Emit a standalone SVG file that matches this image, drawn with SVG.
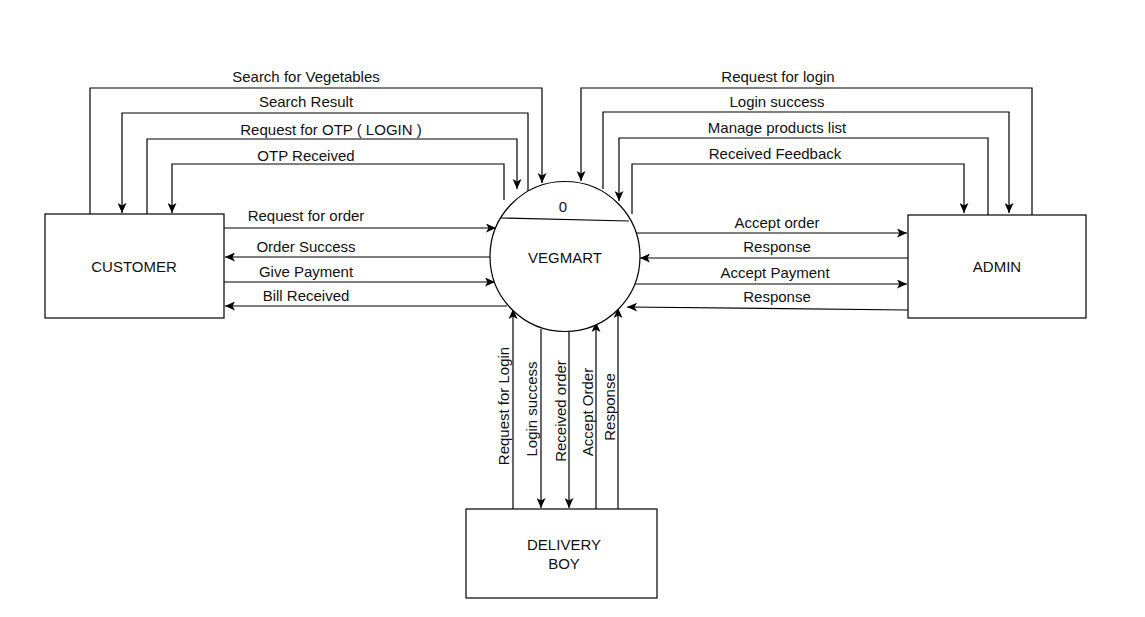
<svg xmlns="http://www.w3.org/2000/svg" width="1145" height="617" viewBox="0 0 1145 617">
  <style>
    .box { fill: #ffffff; stroke: #000000; stroke-width: 1.2; }
    .flow { fill: none; stroke: #000000; stroke-width: 1.2; }
    .lbl { font-family: "Liberation Sans", Arial, sans-serif; font-size: 15px; fill: #111111; text-anchor: middle; dominant-baseline: central; }
  </style>
  <defs>
    <marker id="arrow" markerUnits="userSpaceOnUse" markerWidth="11" markerHeight="9" refX="10" refY="4.5" orient="auto">
      <path d="M0,0 L10,4.5 L0,9 L2.5,4.5 Z" fill="#000000"/>
    </marker>
  </defs>
  <rect width="1145" height="617" fill="#ffffff"/>

  <!-- Connectors -->
  <g id="connectors">
    <!-- customer loops over the top -->
    <path class="flow" d="M90,214 V88 H542 V183" marker-end="url(#arrow)"/>
    <path class="flow" d="M528,191 V113 H122 V213" marker-end="url(#arrow)"/>
    <path class="flow" d="M147,214 V139 H517 V189" marker-end="url(#arrow)"/>
    <path class="flow" d="M504,200 V164 H172 V213" marker-end="url(#arrow)"/>
    <!-- admin loops over the top -->
    <path class="flow" d="M1032,215 V88 H581 V181" marker-end="url(#arrow)"/>
    <path class="flow" d="M603,189 V112 H1009 V213" marker-end="url(#arrow)"/>
    <path class="flow" d="M988,215 V138 H619 V201" marker-end="url(#arrow)"/>
    <path class="flow" d="M632,214 V164 H964 V213" marker-end="url(#arrow)"/>
    <!-- customer side -->
    <path class="flow" d="M224,228 H496" marker-end="url(#arrow)"/>
    <path class="flow" d="M490,257 H225" marker-end="url(#arrow)"/>
    <path class="flow" d="M224,282 H495" marker-end="url(#arrow)"/>
    <path class="flow" d="M507,306 H225" marker-end="url(#arrow)"/>
    <!-- admin side -->
    <path class="flow" d="M635,233 H907" marker-end="url(#arrow)"/>
    <path class="flow" d="M908,258 H640" marker-end="url(#arrow)"/>
    <path class="flow" d="M632,284 H907" marker-end="url(#arrow)"/>
    <path class="flow" d="M908,310 L627,307" marker-end="url(#arrow)"/>
    <!-- delivery boy -->
    <path class="flow" d="M513,509 V309" marker-end="url(#arrow)"/>
    <path class="flow" d="M541,329 V508" marker-end="url(#arrow)"/>
    <path class="flow" d="M569,331 V508" marker-end="url(#arrow)"/>
    <path class="flow" d="M596,509 V322" marker-end="url(#arrow)"/>
    <path class="flow" d="M618,509 V308" marker-end="url(#arrow)"/>
  </g>

  <!-- Connector labels -->
  <g id="labels">
    <text class="lbl" x="306" y="76">Search for Vegetables</text>
    <text class="lbl" x="306" y="101">Search Result</text>
    <text class="lbl" x="331" y="129">Request for OTP ( LOGIN )</text>
    <text class="lbl" x="306" y="155">OTP Received</text>
    <text class="lbl" x="778" y="76">Request for login</text>
    <text class="lbl" x="777" y="101">Login success</text>
    <text class="lbl" x="777" y="127">Manage products list</text>
    <text class="lbl" x="775" y="153">Received Feedback</text>
    <text class="lbl" x="306" y="215">Request for order</text>
    <text class="lbl" x="306" y="246">Order Success</text>
    <text class="lbl" x="306" y="271">Give Payment</text>
    <text class="lbl" x="306" y="295">Bill Received</text>
    <text class="lbl" x="777" y="222">Accept order</text>
    <text class="lbl" x="777" y="246">Response</text>
    <text class="lbl" x="775" y="272">Accept Payment</text>
    <text class="lbl" x="777" y="296">Response</text>
    <text class="lbl" transform="translate(503,406) rotate(-90)">Request for Login</text>
    <text class="lbl" transform="translate(531,409) rotate(-90)">Login success</text>
    <text class="lbl" transform="translate(560,411) rotate(-90)">Received order</text>
    <text class="lbl" transform="translate(587,412) rotate(-90)">Accept Order</text>
    <text class="lbl" transform="translate(609,407) rotate(-90)">Response</text>
  </g>

  <!-- Nodes -->
  <g id="customer">
    <rect class="box" x="45" y="214" width="179" height="104"/>
    <text class="lbl" x="134" y="266">CUSTOMER</text>
  </g>
  <g id="admin">
    <rect class="box" x="908" y="215" width="178" height="103"/>
    <text class="lbl" x="997" y="266">ADMIN</text>
  </g>
  <g id="delivery-boy">
    <rect class="box" x="466" y="509" width="191" height="89"/>
    <text class="lbl" x="564" y="544">DELIVERY</text>
    <text class="lbl" x="564" y="563">BOY</text>
  </g>
  <g id="vegmart">
    <circle class="box" cx="565" cy="256.5" r="75"/>
    <line x1="501" y1="218" x2="629" y2="221" stroke="#000000" stroke-width="1.2"/>
    <text class="lbl" x="563" y="206">0</text>
    <text class="lbl" x="565" y="257">VEGMART</text>
  </g>
</svg>
